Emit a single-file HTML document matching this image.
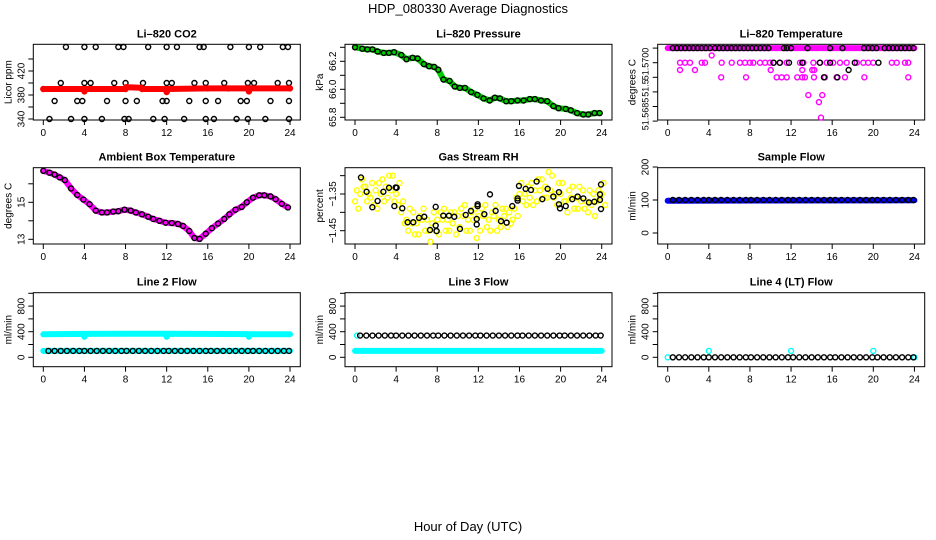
<!DOCTYPE html>
<html><head><meta charset="utf-8"><style>
html,body{margin:0;padding:0;background:#fff}
svg{display:block;font-family:"Liberation Sans",Arial,sans-serif}
</style></head><body>
<svg id="c" width="936" height="540" viewBox="0 0 936 540">
<text x="468" y="13" text-anchor="middle" font-size="13">HDP_080330  Average Diagnostics</text>
<text x="468" y="531" text-anchor="middle" font-size="13">Hour of Day (UTC)</text>
</svg>
<script>
// ---- data ----
const xTicks=[0,4,8,12,16,20,24];
// CO2
const co2TopHours=[2.2,4,5.1,7.3,7.8,10.2,12,13,15.2,15.6,18.2,20,21.1,23.3,23.8];
const co2Row400Hours=[1.7,4,4.6,6.9,8,9.7,12,12.5,14.7,15.8,17.6,19.9,20.5,22.8,23.9];
const co2Row370Hours=[1.1,3.3,3.8,6.2,8,9.1,11.6,12,14.2,15.8,17,19.2,19.8,22.1,23.9];
const co2Row340Hours=[0.6,2.7,4,5.7,7.9,8.3,10.7,11.8,13.7,15.8,16.6,18.8,19.9,21.6,23.9];
const co2RedHours=[0,3.9,4,4.1,8,8.1,9.5,9.6,11.9,12,12.1,16,18,19.9,20,20.1,24];
const co2RedVals=[390,390,386,390,390,393,392,390,390,385,390,391,391,391,386,391,391];
// Pressure
const presHours=[0,0.7,1.2,1.7,2.2,2.8,3.3,3.8,4.5,5,5.6,6.1,6.7,7.2,7.7,8.1,8.6,9.2,9.7,10.2,10.7,11.3,11.9,12.5,13.1,13.6,14.1,14.7,15.2,15.8,16.4,17,17.5,18.1,18.7,19.3,19.8,20.5,21,21.6,22.2,22.7,23.3,23.8];
const presVals=[66.30,66.29,66.285,66.285,66.27,66.26,66.26,66.265,66.245,66.215,66.225,66.22,66.18,66.165,66.16,66.14,66.07,66.06,66.02,66.01,66.01,65.98,65.96,65.935,65.92,65.94,65.935,65.915,65.915,65.92,65.92,65.93,65.93,65.92,65.915,65.88,65.865,65.86,65.85,65.83,65.82,65.82,65.83,65.83];
// Li-820 Temperature
const tTopMagHours=[0,24];
const tTopVal=51.5705;
const tTopBlackHours=[0.5,0.9,1.3,1.7,2.1,2.5,2.9,3.3,3.7,4.1,4.6,5.0,5.4,5.8,6.2,6.6,7.0,7.4,7.8,8.2,8.6,9.0,9.4,9.8,11.3,11.6,12.0,13.6,15.8,17.0,19.1,19.5,19.9,20.3,21.1,21.5,21.9,22.3,22.7,23.1,23.5,23.9];
const tMagHours=[1.2,1.68,2.17,3.31,3.63,5.25,6.23,7.03,7.52,8.0,8.33,8.98,9.47,9.95,10.28,10.93,11.58,12.87,13.2,14.17,14.82,15.47,16.1,16.76,17.41,18.39,19.03,19.5,20.0,21.8,22.28,23.08,23.4,
 1.2,2.65,10.02,13.09,14.06,14.26,
 5.2,7.62,10.6,11.09,11.58,12.6,13.09,13.35,14.23,15.3,16.43,17.24,19.13,23.4,
 13.68,15.04,14.71,14.91,4.28];
const tMagVals=[51.57,51.57,51.57,51.57,51.57,51.57,51.57,51.57,51.57,51.57,51.57,51.57,51.57,51.57,51.57,51.57,51.57,51.57,51.57,51.57,51.57,51.57,51.57,51.57,51.57,51.57,51.57,51.57,51.57,51.57,51.57,51.57,51.57,
 51.56975,51.56975,51.56975,51.56975,51.56975,51.56975,
 51.5695,51.5695,51.5695,51.5695,51.5695,51.5695,51.5695,51.5695,51.5695,51.5695,51.5695,51.5695,51.5695,51.5695,
 51.56889,51.56889,51.56865,51.56812,51.57025];
const tBlkHours=[10.3,10.9,11.8,13.1,14.8,15.8,18.2,20.5,17.6,15.2,16.5];
const tBlkVals=[51.57,51.57,51.57,51.57,51.57,51.57,51.57,51.57,51.56975,51.5695,51.5695];
// Ambient
const ambHours=[0,0.6,1.1,1.6,2.1,2.7,3.3,3.9,4.5,5.1,5.7,6.2,6.8,7.3,7.9,8.5,9.0,9.6,10.2,10.7,11.3,11.9,12.5,13.1,13.6,14.2,14.7,15.2,15.8,16.4,17.0,17.6,18.1,18.7,19.3,19.8,20.4,21.0,21.5,22.1,22.6,23.2,23.8];
const ambVals=[16.7,16.6,16.5,16.35,16.2,15.75,15.4,15.15,14.9,14.55,14.45,14.45,14.5,14.52,14.6,14.55,14.45,14.35,14.22,14.1,14.0,13.9,13.88,13.83,13.72,13.45,13.07,13.02,13.3,13.6,13.85,14.1,14.35,14.6,14.75,15.0,15.25,15.38,15.38,15.32,15.17,14.92,14.72];
// RH
const rhYelHours=[0,0.5,1,1.5,2,2.5,3,3.5,4,4.5,5,5.5,6,6.5,7,7.5,8,8.5,9,9.5,10,10.5,11,11.5,12,12.5,13,13.5,14,14.5,15,15.5,16,16.5,17,17.5,18,18.5,19,19.5,20,20.5,21,21.5,22,22.5,23,23.5,24];
const rhYelA=[-1.37,-1.35,-1.33,-1.36,-1.34,-1.35,-1.33,-1.34,-1.35,-1.40,-1.42,-1.43,-1.43,-1.42,-1.42,-1.43,-1.42,-1.42,-1.42,-1.43,-1.41,-1.41,-1.42,-1.42,-1.41,-1.41,-1.42,-1.41,-1.42,-1.41,-1.40,-1.39,-1.35,-1.35,-1.36,-1.34,-1.34,-1.33,-1.34,-1.35,-1.35,-1.37,-1.36,-1.36,-1.37,-1.37,-1.38,-1.37,-1.35];
const rhYelB=[-1.34,-1.31,-1.37,-1.32,-1.39,-1.31,-1.36,-1.30,-1.38,-1.37,-1.45,-1.40,-1.46,-1.39,-1.45,-1.40,-1.46,-1.39,-1.45,-1.40,-1.44,-1.38,-1.45,-1.39,-1.45,-1.38,-1.45,-1.38,-1.44,-1.39,-1.43,-1.36,-1.32,-1.38,-1.32,-1.37,-1.31,-1.36,-1.30,-1.38,-1.32,-1.40,-1.33,-1.39,-1.34,-1.40,-1.35,-1.34,-1.32];
const rhYelC=[-1.39,-1.33,-1.35,-1.38,-1.32,-1.37,-1.30,-1.37,-1.32,-1.43,-1.39,-1.46,-1.41,-1.45,-1.48,-1.45,-1.40,-1.45,-1.40,-1.46,-1.39,-1.45,-1.40,-1.47,-1.39,-1.44,-1.40,-1.45,-1.39,-1.44,-1.42,-1.41,-1.37,-1.33,-1.38,-1.31,-1.36,-1.29,-1.36,-1.32,-1.37,-1.34,-1.39,-1.33,-1.39,-1.34,-1.41,-1.36,-1.38];
const rhBlkHours=[0.58,1.13,1.69,2.2,2.76,3.31,3.83,3.96,4.05,4.6,5.12,5.67,6.23,6.74,7.85,7.85,7.3,7.94,8.59,9.14,9.66,10.21,10.77,11.28,11.84,11.84,11.93,11.93,12.58,13.13,13.68,14.2,14.75,15.3,15.82,15.82,15.95,16.6,17.12,17.67,18.22,18.74,19.29,19.84,19.84,19.94,20.5,21.14,21.66,22.21,22.76,23.28,23.83,23.83,23.93,23.93];
const rhBlkVals=[-1.305,-1.344,-1.386,-1.369,-1.344,-1.333,-1.383,-1.332,-1.333,-1.389,-1.427,-1.427,-1.415,-1.412,-1.436,-1.385,-1.448,-1.451,-1.409,-1.409,-1.412,-1.445,-1.407,-1.396,-1.418,-1.433,-1.378,-1.383,-1.405,-1.351,-1.396,-1.424,-1.428,-1.383,-1.368,-1.362,-1.328,-1.336,-1.339,-1.316,-1.364,-1.336,-1.357,-1.345,-1.378,-1.389,-1.383,-1.364,-1.357,-1.362,-1.373,-1.371,-1.366,-1.351,-1.324,-1.391];
// Flows
const flowHours=[0.5,1.1,1.7,2.3,2.9,3.5,4.0,4.6,5.2,5.8,6.4,7.0,7.6,8.1,8.7,9.3,9.9,10.5,11.1,11.7,12.2,12.8,13.4,14.0,14.6,15.2,15.8,16.3,16.9,17.5,18.1,18.7,19.3,19.9,20.4,21.0,21.6,22.2,22.8,23.4,23.9];
const sampleBlkVals=[100,100,100,100,100,100,100,100,100,100,100,100,100,100,100,100,100,100,100,100,100,100,100,100,100,100,100,100,100,100,100,100,100,100,100,100,100,100,100,100,100];
const sampleBlueHours=[0,24];
const sampleBlueVals=[98,99];
const line2CyanHiHours=[0,3.9,4,4.1,11.9,12,12.1,19.9,20,20.1,24];
const line2CyanHiVals=[360,365,320,365,368,320,368,362,320,360,360];
const line2CyanLoHours=[0,24];
const line2CyanLoVals=[100,100];
const line2BlkVals=[100,100,100,100,100,100,100,100,100,100,100,100,100,100,100,100,100,100,100,100,100,100,100,100,100,100,100,100,100,100,100,100,100,100,100,100,100,100,100,100,100];
const line3CyanHours=[0,24];
const line3CyanVals=[100,100];
const line3BlkVals=[340,340,340,340,340,340,340,340,340,340,340,340,340,340,340,340,340,340,340,340,340,340,340,340,340,340,340,340,340,340,340,340,340,340,340,340,340,340,340,340,340];
const line3CyanExtraHours=[0.2];
const line3CyanExtraVals=[340];
const line4BlkVals=[0,0,0,0,0,0,0,0,0,0,0,0,0,0,0,0,0,0,0,0,0,0,0,0,0,0,0,0,0,0,0,0,0,0,0,0,0,0,0,0,0];
const line4CyanHours=[0,4,12,20,24];
const line4CyanVals=[0,100,100,100,0];

// ---- layout ----
const svg=document.getElementById('c');
const NS='http://www.w3.org/2000/svg';
const colX0=[43.3,355,667.7], PPH=10.28;
const rowBox=[[44.3,120],[167.7,244],[292.7,366.7]];
function mk(tag,attrs,parent){const e=document.createElementNS(NS,tag);for(const k in attrs)e.setAttribute(k,attrs[k]);(parent||svg).appendChild(e);return e;}

function panel(name,title,col,row,yFn,yTicks,yLabels,ylabel,yfs){
  const g=mk('g',{});
  
  
  const x0=colX0[col],[t,b]=rowBox[row];
  const L=x0-10,R=x0+257;
  const box=mk('rect',{x:L,y:t,width:R-L,height:b-t,fill:'none',stroke:'#000','stroke-width':1},g);
  
  
  const tt=mk('text',{x:(L+R)/2,y:t-7,'text-anchor':'middle','font-size':11,'font-weight':'bold'},g);
  tt.textContent=title;
  
  
  const xs=h=>x0+h*PPH;
  xTicks.forEach(h=>{
    mk('line',{x1:xs(h),x2:xs(h),y1:b,y2:b+5,stroke:'#000'},g);
    const tx=mk('text',{x:xs(h),y:b+16,'text-anchor':'middle','font-size':10},g);
    tx.textContent=h;
    
    
  });
  yTicks.forEach(v=>mk('line',{x1:L,x2:L-5,y1:yFn(v),y2:yFn(v),stroke:'#000'},g));
  yLabels.forEach(([v,s,yy])=>{
    const y=yy!==undefined?yy:yFn(v);
    const tx=mk('text',{x:L-9,y:y,'text-anchor':'middle','font-size':yfs||10,transform:`rotate(-90 ${L-9} ${y})`},g);
    tx.textContent=s;
    
    
  });
  const yl=mk('text',{x:L-22,y:(t+b)/2,'text-anchor':'middle','font-size':10,transform:`rotate(-90 ${L-22} ${(t+b)/2})`},g);
  yl.textContent=ylabel;
  
  
  return {g,xs,ys:yFn};
}
function pts(p,hours,vals,color,name,constVal){
  hours.forEach((h,i)=>{
    const v=constVal!==undefined?constVal:vals[i];
    const c=mk('circle',{cx:p.xs(h),cy:p.ys(v),r:2.5,fill:'none',stroke:color,'stroke-width':1.4},p.g);
    
    
  });
}
function band(p,hours,vals,color,w,name){
  const d=hours.map((h,i)=>p.xs(h).toFixed(1)+','+p.ys(vals[i]).toFixed(1)).join(' ');
  const pl=mk('polyline',{points:d,fill:'none',stroke:color,'stroke-width':w,'stroke-linejoin':'round','stroke-linecap':'round'},p.g);
  
  
}

// Panel 1 CO2
let p=panel('co2-panel','Li\u2013820 CO2',0,0,v=>119-(v-340)*0.6,[340,360,380,400,420,440],[[340,'340'],[380,'380'],[420,'420']],'Licor ppm');
pts(p,co2TopHours,null,'#000','co2-point',460);
pts(p,co2Row400Hours,null,'#000','co2-point',400);
pts(p,co2Row370Hours,null,'#000','co2-point',370);
pts(p,co2Row340Hours,null,'#000','co2-point',340);
band(p,co2RedHours,co2RedVals,'#ff0000',6,'co2-mean-series');
pts(p,co2RedHours,co2RedVals,'#ff0000','co2-mean-point');
// Panel 2 Pressure
p=panel('pressure-panel','Li\u2013820 Pressure',1,0,v=>117.3-(v-65.8)*140,[65.8,65.9,66.0,66.1,66.2,66.3],[[65.8,'65.8'],[66.0,'66.0'],[66.2,'66.2']],'kPa');
band(p,presHours,presVals,'#00cc00',6,'pressure-mean-series');
pts(p,presHours,presVals,'#000','pressure-point');
// Panel 3 Temp
p=panel('li820-temperature-panel','Li\u2013820 Temperature',2,0,v=>62.7-(v-51.57)*29200,[51.5705,51.57,51.5695,51.569,51.5685,51.568],[[51.57,'51.5700',64],[51.569,'51.5',88],[51.5685,'51.5685',114]],'degrees C',9);
band(p,tTopMagHours,[tTopVal,tTopVal],'#ff00ff',6,'temp-top-series');
pts(p,tMagHours,tMagVals,'#ff00ff','temp-point');
pts(p,tTopBlackHours,null,'#000','temp-black-point',tTopVal);
pts(p,tBlkHours,tBlkVals,'#000','temp-black-point');
// Panel 4 Ambient
p=panel('ambient-temperature-panel','Ambient Box Temperature',0,1,v=>239.3-(v-13)*18.5,[13,14,15,16],[[13,'13'],[15,'15']],'degrees C');
band(p,ambHours,ambVals,'#ff00ff',6,'ambient-series');
pts(p,ambHours,ambVals,'#000','ambient-point');
// Panel 5 RH
p=panel('gas-stream-rh-panel','Gas Stream RH',1,1,v=>194-(v+1.35)*367,[-1.3,-1.35,-1.4,-1.45],[[-1.35,'\u22121.35'],[-1.45,'\u22121.45']],'percent');
pts(p,rhYelHours,rhYelA,'#ffff00','rh-yellow-point');
pts(p,rhYelHours.map(h=>h+0.17),rhYelB,'#ffff00','rh-yellow-point');
pts(p,rhYelHours.map(h=>h+0.33),rhYelC,'#ffff00','rh-yellow-point');
pts(p,rhBlkHours,rhBlkVals,'#000','rh-black-point');
// Panel 6 Sample flow
p=panel('sample-flow-panel','Sample Flow',2,1,v=>233-v*0.33,[0,100,200],[[0,'0'],[100,'100'],[200,'200']],'ml/min');
band(p,sampleBlueHours,sampleBlueVals,'#0000ff',6,'sample-flow-series');
pts(p,flowHours,sampleBlkVals,'#000','sample-flow-point');
// Row 3
const yf=v=>357.3-v*0.064;
const ft=[0,200,400,600,800,1000], fl=[[0,'0'],[400,'400'],[800,'800']];
p=panel('line2-flow-panel','Line 2 Flow',0,2,yf,ft,fl,'ml/min');
band(p,line2CyanHiHours,line2CyanHiVals,'#00ffff',6,'line2-cyan-series');
band(p,line2CyanLoHours,line2CyanLoVals,'#00ffff',6,'line2-cyan-low-series');
pts(p,flowHours,line2BlkVals,'#000','line2-point');
p=panel('line3-flow-panel','Line 3 Flow',1,2,yf,ft,fl,'ml/min');
band(p,line3CyanHours,line3CyanVals,'#00ffff',6,'line3-cyan-series');
pts(p,line3CyanExtraHours,line3CyanExtraVals,'#00ffff','line3-cyan-point');
pts(p,flowHours,line3BlkVals,'#000','line3-point');
p=panel('line4-flow-panel','Line 4 (LT) Flow',2,2,yf,ft,fl,'ml/min');
pts(p,line4CyanHours,line4CyanVals,'#00ffff','line4-cyan-point');
pts(p,flowHours,line4BlkVals,'#000','line4-point');
</script>
</body></html>
